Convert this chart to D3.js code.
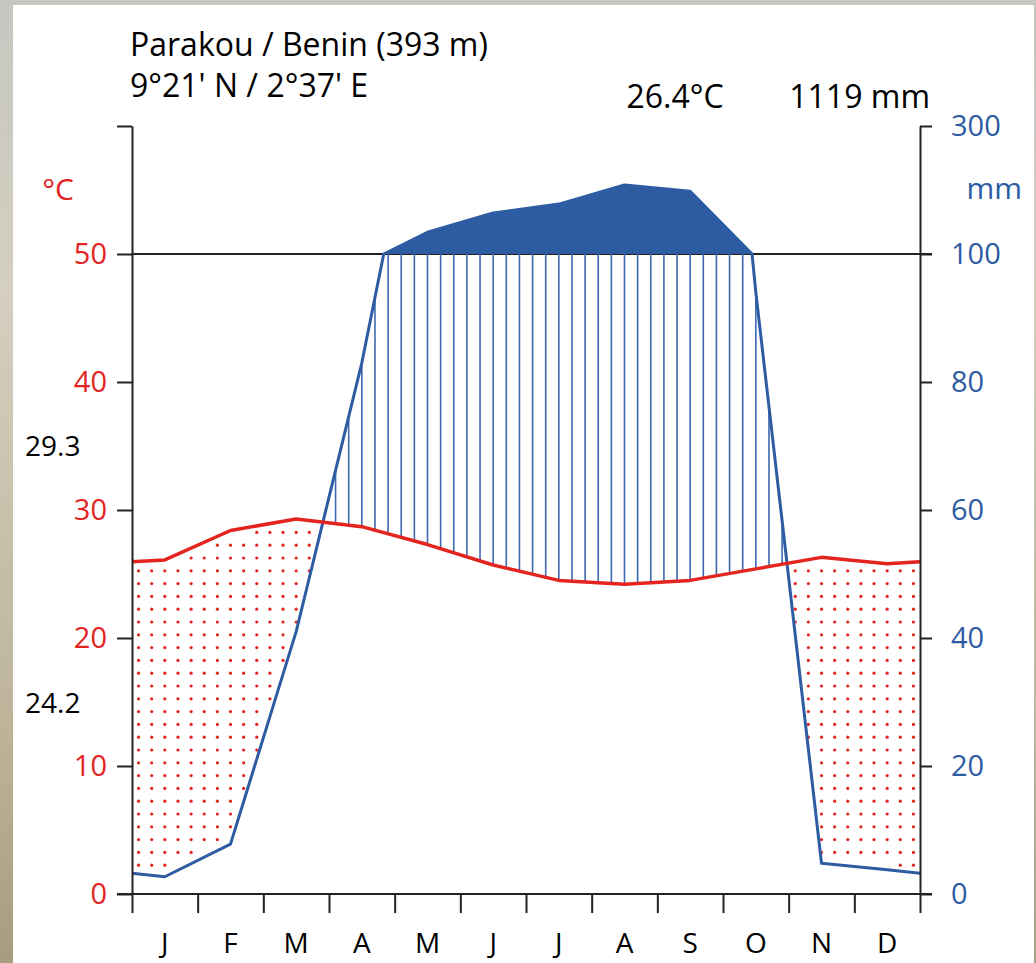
<!DOCTYPE html>
<html>
<head>
<meta charset="utf-8">
<title>Parakou climate diagram</title>
<script src="https://cdnjs.cloudflare.com/ajax/libs/d3/7.8.5/d3.min.js"></script>
<style>
body {
  margin: 0;
  width: 1036px;
  height: 963px;
  overflow: hidden;
  background: linear-gradient(to bottom, #c6c7c2 0%, #d4cfbf 30%, #bdb49a 75%, #a69c80 100%);
}
svg { display: block; }
text { font-family: "Open Sans", sans-serif; }
.axis path, .axis line { stroke: #222; stroke-width: 2; }
</style>
</head>
<body>
<script>
var months = ["J", "F", "M", "A", "M", "J", "J", "A", "S", "O", "N", "D"];
var temp = [26.1, 28.4, 29.3, 28.7, 27.3, 25.7, 24.5, 24.2, 24.5, 25.4, 26.3, 25.8];
var precip = [2.7, 7.8, 41, 83, 134, 164, 178, 208, 198, 94, 4.8, 3.8];
var tempTicks = [0, 10, 20, 30, 40, 50, 60];

var red = "#e3241f", blue = "#2d5ca3";

var svg = d3.select("body").append("svg")
    .attr("width", 1036)
    .attr("height", 963);

svg.append("rect")
    .attr("x", 13).attr("y", 5)
    .attr("width", 1021).attr("height", 958)
    .attr("fill", "#fff");

var x = d3.scaleLinear().domain([0, 12]).range([132, 920]);
var yT = d3.scaleLinear().domain([0, 60]).range([894, 126]);
// precipitation in temperature units: 20 mm = 10 C up to 100 mm, then 10x compressed
function pd(p) { return p <= 100 ? p / 2 : 50 + (p - 100) / 20; }

// series with month midpoints plus wrapped edges
var edgeT = (temp[11] + temp[0]) / 2,
    edgeP = (precip[11] + precip[0]) / 2;
var tPts = [{m: 0, v: edgeT}].concat(temp.map(function(v, i) { return {m: i + 0.5, v: v}; }), [{m: 12, v: edgeT}]);
var pRaw = [{m: 0, v: edgeP}].concat(precip.map(function(v, i) { return {m: i + 0.5, v: v}; }), [{m: 12, v: edgeP}]);
var pPts = [];
pRaw.forEach(function(d, i) {
  if (i > 0) {
    var a = pRaw[i - 1];
    if ((a.v - 100) * (d.v - 100) < 0) {
      var t = (100 - a.v) / (d.v - a.v);
      pPts.push({m: a.m + t * (d.m - a.m), v: 100});
    }
  }
  pPts.push(d);
});

function interp(pts, m, f) {
  for (var i = 1; i < pts.length; i++) {
    if (m <= pts[i].m) {
      var a = pts[i - 1], b = pts[i], t = (m - a.m) / (b.m - a.m);
      return f(a.v) + t * (f(b.v) - f(a.v));
    }
  }
  return f(pts[pts.length - 1].v);
}
var ident = function(v) { return v; };

// 100 mm reference line
svg.append("line")
    .attr("x1", x(0)).attr("x2", x(12) + 12)
    .attr("y1", yT(50)).attr("y2", yT(50))
    .attr("stroke", "#222").attr("stroke-width", 2);

// hatching (humid) and dots (arid)
var hatch = svg.append("g"), dots = svg.append("g");
for (var k = 0; k < 60; k++) {
  var m = (k + 0.5) / 5;
  var tv = interp(tPts, m, ident), pv = interp(pPts, m, pd);
  if (pv > tv) {
    hatch.append("line")
        .attr("x1", x(m)).attr("x2", x(m))
        .attr("y1", yT(Math.min(pv, 50))).attr("y2", yT(tv))
        .attr("stroke", "#3d69b1").attr("stroke-width", 1.6);
  } else {
    for (var v = 0.25; v < 60; v += 1) {
      if (v < tv - 0.45 && v > pv + 0.45) {
        dots.append("circle")
            .attr("cx", x(m)).attr("cy", yT(v))
            .attr("r", 1.6).attr("fill", red);
      }
    }
  }
}

// precipitation above 100 mm
svg.append("path")
    .datum(pPts)
    .attr("fill", blue)
    .attr("d", d3.area()
        .x(function(d) { return x(d.m); })
        .y0(yT(50))
        .y1(function(d) { return yT(pd(Math.max(d.v, 100))); }));

svg.append("path")
    .datum(pPts)
    .attr("fill", "none").attr("stroke", blue).attr("stroke-width", 3)
    .attr("stroke-linejoin", "round")
    .attr("d", d3.line().x(function(d) { return x(d.m); }).y(function(d) { return yT(pd(d.v)); }));

svg.append("path")
    .datum(tPts)
    .attr("fill", "none").attr("stroke", red).attr("stroke-width", 3.5)
    .attr("stroke-linejoin", "round")
    .attr("d", d3.line().x(function(d) { return x(d.m); }).y(function(d) { return yT(d.v); }));

// axes
var left = svg.append("g").attr("class", "axis")
    .attr("transform", "translate(" + x(0) + ",0)")
    .call(d3.axisLeft(yT).tickValues(tempTicks).tickSize(15).tickSizeOuter(0).tickPadding(10)
        .tickFormat(function(d) { return d < 60 ? d : ""; }));
left.selectAll("text").attr("fill", red).style("font-size", "29px").attr("font-family", null);

var right = svg.append("g").attr("class", "axis")
    .attr("transform", "translate(" + x(12) + ",0)")
    .call(d3.axisRight(yT).tickValues(tempTicks).tickSize(12).tickSizeOuter(0).tickPadding(19)
        .tickFormat(function(d) { return d <= 50 ? d * 2 : 100 + (d - 50) * 20; }));
right.selectAll("text").attr("fill", blue).style("font-size", "29px").attr("font-family", null);

var bottom = svg.append("g").attr("class", "axis")
    .attr("transform", "translate(0," + yT(0) + ")")
    .call(d3.axisBottom(x).tickValues(d3.range(13)).tickSize(19).tickSizeOuter(0).tickFormat(""));
bottom.select(".domain").attr("d", "M" + (x(0) - 15) + ",0H" + (x(12) + 12));

var band = d3.scaleBand().domain(d3.range(12)).range([132, 920]);
svg.append("g").selectAll("text")
    .data(months)
  .enter().append("text")
    .attr("x", function(d, i) { return band(i) + band.bandwidth() / 2; })
    .attr("y", 953)
    .attr("text-anchor", "middle")
    .style("font-size", "28px")
    .text(function(d) { return d; });

// labels
svg.append("text").attr("x", 130).attr("y", 56).style("font-size", "32px").text("Parakou / Benin (393 m)");
svg.append("text").attr("x", 130).attr("y", 97).style("font-size", "32px").text("9°21' N / 2°37' E");
svg.append("text").attr("x", 675).attr("y", 108).attr("text-anchor", "middle").style("font-size", "32px").text("26.4°C");
svg.append("text").attr("x", 930).attr("y", 108).attr("text-anchor", "end").style("font-size", "32px").text("1119 mm");
svg.append("text").attr("x", 74).attr("y", 200).attr("text-anchor", "end").attr("fill", red).style("font-size", "30px").text("°C");
svg.append("text").attr("x", 1022).attr("y", 199).attr("text-anchor", "end").attr("fill", blue).style("font-size", "30px").text("mm");
svg.append("text").attr("x", 25).attr("y", 456).style("font-size", "28px").text(d3.max(temp).toFixed(1));
svg.append("text").attr("x", 25).attr("y", 713).style("font-size", "28px").text(d3.min(temp).toFixed(1));
</script>
</body>
</html>
